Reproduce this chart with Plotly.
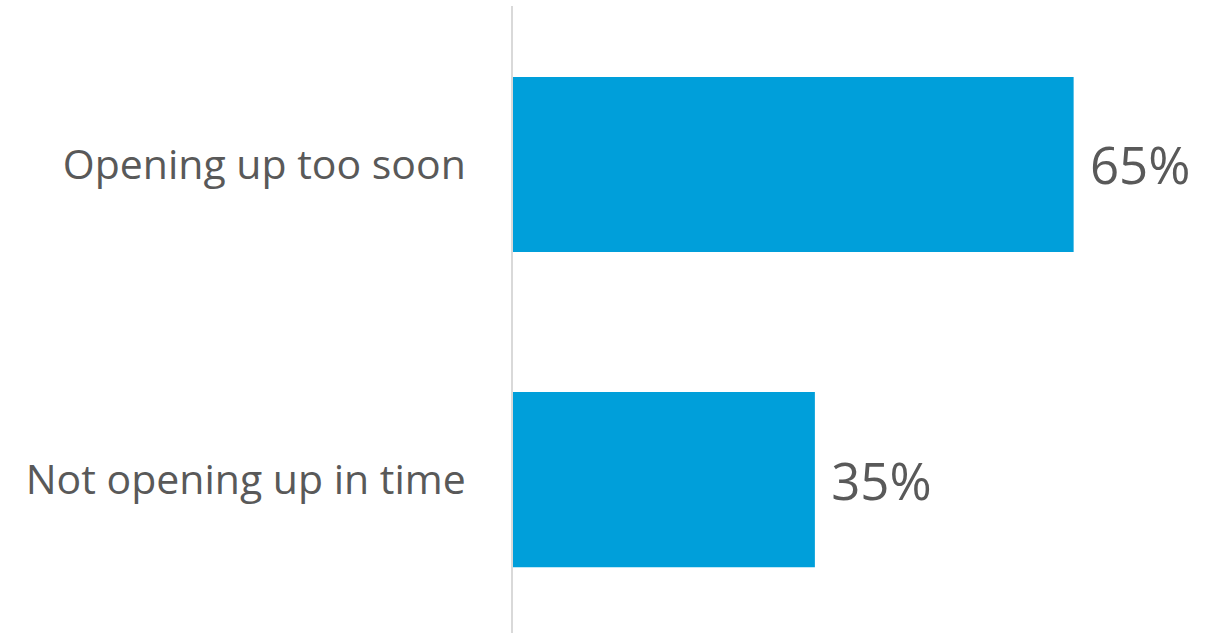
import plotly.graph_objects as go

categories = ["Opening up too soon", "Not opening up in time"]
values = [65, 35]
value_labels = ["65%", "35%"]

TEXT = "#595959"
BAR = "#009FDA"
FONT = "Open Sans"

fig = go.Figure(go.Bar(
    x=values,
    y=categories,
    orientation="h",
    marker=dict(color=BAR, line=dict(width=0)),
    text=[" " + t for t in value_labels],
    textposition="outside",
    textfont=dict(family=FONT, size=51, color=TEXT),
    cliponaxis=False,
    width=0.556,
))

fig.update_layout(
    width=1218, height=633,
    margin=dict(l=513, r=15, t=6, b=0, autoexpand=False),
    paper_bgcolor="white", plot_bgcolor="white",
    showlegend=False,
    font=dict(family=FONT, color=TEXT),
)
fig.update_xaxes(range=[0, 80], visible=False, showgrid=False, zeroline=False,
                 automargin=False)
fig.update_yaxes(
    categoryorder="array", categoryarray=categories[::-1],
    range=[-0.487, 1.503],
    showgrid=False, zeroline=False,
    showline=True, linecolor="#d9d9d9", linewidth=2,
    ticks="", tickfont=dict(family=FONT, size=41, color=TEXT),
    ticklabelstandoff=37,
    automargin=False,
)
fig.write_html(
    "out.html",
    config={"displayModeBar": False},
    post_script="document.body.style.margin='0';document.body.style.overflow='hidden';",
)
